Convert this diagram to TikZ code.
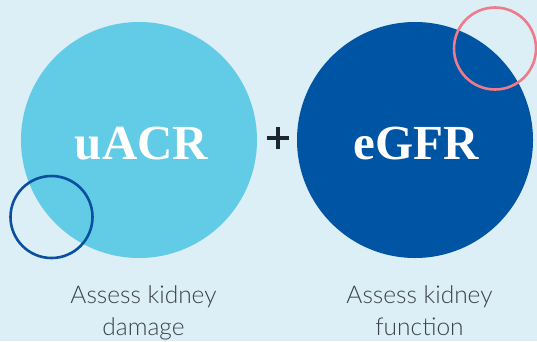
\documentclass[tikz,border=0pt]{standalone}
\usepackage{fontspec}
\newfontfamily\headfont{Liberation Serif}
\newfontfamily\labelfont{Lato Light}
\definecolor{bgblue}{HTML}{DCEEF6}
\definecolor{lightdisc}{HTML}{62CBE6}
\definecolor{darkdisc}{HTML}{0054A4}
\definecolor{ringblue}{HTML}{0A4FA0}
\definecolor{ringpink}{HTML}{EE7A8A}
\definecolor{plusink}{HTML}{1B2631}
\definecolor{labelgray}{HTML}{3C4247}
\tikzset{
  disc/.style={circle, inner sep=0pt, minimum size=236pt},
  ring/.style={circle, inner sep=0pt, minimum size=82pt, line width=2.6pt},
  headtext/.style={text=white, font=\headfont\bfseries\fontsize{49}{49}\selectfont, anchor=base, inner sep=0pt},
  caption/.style={text=labelgray, font=\labelfont\fontsize{24.5}{32}\selectfont, align=center, anchor=base, inner sep=0pt},
}
\begin{document}
\begin{tikzpicture}[x=1pt,y=-1pt]
  \fill[bgblue] (0,0) rectangle (537,341);
  \useasboundingbox (0,0) rectangle (537,341);
  % two large discs
  \node[disc, fill=lightdisc] (acr) at (139,140) {};
  \node[disc, fill=darkdisc] (gfr) at (415,140) {};
  % accent rings
  \node[ring, draw=ringblue] (ringL) at (51.5,217) {};
  \node[ring, draw=ringpink] (ringR) at (495,48.5) {};
  % plus sign
  \node (plus) at (278,138) {};
  \fill[plusink] (267,136) rectangle (289,140.2);
  \fill[plusink] (275.9,127) rectangle (280.1,149);
  % disc titles
  \node[headtext] (acrtxt) at (141.5,159) {uACR};
  \node[headtext] (gfrtxt) at (416.5,159) {eGFR};
  % captions (base anchor sits on the last line)
  \node[caption] (acrcap) at (143.5,335) {Assess kidney\\damage};
  \node[caption] (gfrcap) at (419.5,335) {Assess kidney\\function};
\end{tikzpicture}
\end{document}
